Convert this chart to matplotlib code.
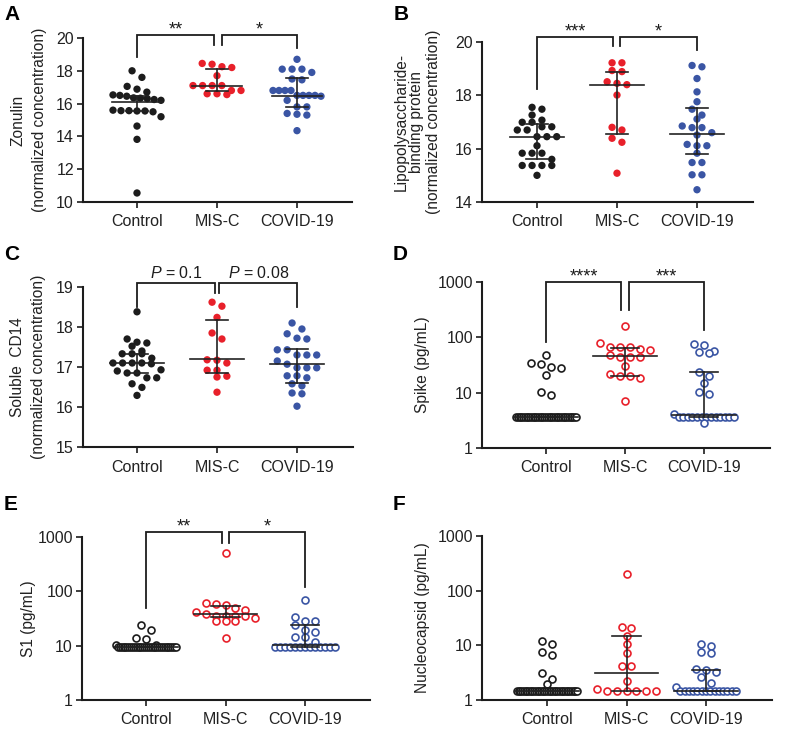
import numpy as np
import matplotlib
matplotlib.use('Agg')
import matplotlib.pyplot as plt

plt.rcParams['font.family'] = ['Liberation Sans', 'DejaVu Sans']
plt.rcParams['mathtext.fontset'] = 'custom'
plt.rcParams['mathtext.it'] = 'Liberation Sans:italic'
plt.rcParams['mathtext.rm'] = 'Liberation Sans'

W, H = 787, 744
RED = '#E8202A'
BLUE = '#3A55A4'
BLACK = '#1C1C1C'
BAR = '#222222'

categories = ['Control', 'MIS-C', 'COVID-19']

# ---------------- data ----------------
zonulin_control = [18.0, 17.6, 17.05, 16.88, 16.7, 16.53, 16.5, 16.45, 16.35, 16.33, 16.3, 16.25,
                   16.2, 15.6, 15.57, 15.57, 15.55, 15.55, 15.5, 15.2, 14.63, 13.82, 10.55]
zonulin_misc = [18.45, 18.4, 18.25, 18.2, 17.7, 17.1, 17.1, 17.1, 17.1, 16.8, 16.8, 16.6, 16.6, 16.55]
zonulin_covid = [18.7, 18.1, 18.1, 18.1, 17.9, 17.5, 17.45, 16.8, 16.8, 16.8, 16.8, 16.5, 16.5, 16.5,
                 16.5, 16.45, 16.2, 15.8, 15.8, 15.4, 15.35, 15.3, 14.35]
zonulin_median = [16.12, 17.09, 16.48]
zonulin_q1 = [15.55, 16.77, 15.77]
zonulin_q3 = [16.48, 18.11, 17.58]

lbp_control = [17.55, 17.48, 17.26, 17.07, 16.99, 16.99, 16.82, 16.82, 16.70, 16.70, 16.45, 16.45,
               16.45, 16.11, 15.83, 15.83, 15.83, 15.6, 15.37, 15.37, 15.37, 15.37, 15.0]
lbp_misc = [19.22, 19.22, 18.93, 18.89, 18.51, 18.45, 18.40, 18.01, 16.80, 16.70, 16.39, 16.24, 15.08]
lbp_covid = [19.12, 19.07, 18.63, 18.13, 17.76, 17.48, 17.26, 17.11, 16.85, 16.79, 16.79, 16.6,
             16.51, 16.16, 16.11, 16.11, 15.83, 15.48, 15.48, 15.02, 15.02, 14.46]
lbp_median = [16.45, 18.40, 16.55]
lbp_q1 = [15.60, 16.55, 15.79]
lbp_q3 = [16.93, 18.86, 17.51]

cd14_control = [18.38, 17.70, 17.62, 17.6, 17.52, 17.4, 17.33, 17.33, 17.33, 17.22, 17.1, 17.1,
                17.1, 17.1, 17.08, 16.93, 16.9, 16.85, 16.85, 16.73, 16.73, 16.58, 16.49, 16.29]
cd14_misc = [18.62, 18.52, 18.24, 17.85, 17.7, 17.18, 17.17, 17.1, 16.92, 16.92, 16.77, 16.75, 16.37]
cd14_covid = [18.1, 17.95, 17.83, 17.72, 17.7, 17.43, 17.43, 17.3, 17.3, 17.3, 17.15, 17.07, 16.98,
              16.98, 16.98, 16.78, 16.78, 16.73, 16.58, 16.53, 16.35, 16.33, 16.02]
cd14_median = [17.09, 17.19, 17.07]
cd14_q1 = [16.84, 16.84, 16.59]
cd14_q3 = [17.33, 18.18, 17.45]

spike_control = [48, 34, 33, 29.5, 27.5, 21, 10.4, 9.1,
                 3.6, 3.6, 3.6, 3.6, 3.6, 3.6, 3.6, 3.6, 3.6, 3.6, 3.6, 3.6, 3.6, 3.6, 3.6, 3.6, 3.6,
                 3.6, 3.6, 3.6, 3.6, 3.6, 3.6, 3.6, 3.6, 3.6, 3.6, 3.6, 3.6, 3.6, 3.6, 3.6, 3.6, 3.6, 3.6]
spike_misc = [159, 79, 66, 66, 66, 62, 60, 47, 45, 45, 45, 30, 21.5, 20, 20, 18.6, 7.2]
spike_covid = [75, 73, 57, 55, 52, 23.3, 20, 14.8, 10.1, 9.3, 4.2,
               3.7, 3.7, 3.7, 3.7, 3.7, 3.7, 3.7, 3.7, 3.7, 3.7, 3.7, 3.7, 3.7, 2.88]
spike_median = [3.6, 46, 3.9]
spike_q1 = [3.6, 20.2, 3.7]
spike_q3 = [3.6, 64.9, 23.3]

s1_control = [24, 19.6, 14, 13, 10.5, 10.3,
              9.3, 9.3, 9.3, 9.3, 9.3, 9.3, 9.3, 9.3, 9.3, 9.3, 9.3, 9.3, 9.3, 9.3, 9.3, 9.3,
              9.3, 9.3, 9.3, 9.3, 9.3, 9.3, 9.3, 9.3, 9.3, 9.3, 9.3, 9.3, 9.3, 9.3, 9.3, 9.3]
s1_misc = [515, 60, 58.5, 56, 48.6, 46, 42, 39, 35, 35, 35, 35, 32, 29, 29, 28, 13.6]
s1_covid = [68, 34, 28, 28, 24, 19.5, 18, 14.7, 14.7, 11.7,
            9.3, 9.3, 9.3, 9.3, 9.3, 9.3, 9.3, 9.3, 9.3, 9.3, 9.3, 9.3, 9.3]
s1_median = [9.3, 38.3, 10.3]
s1_q1 = [9.3, 33.3, 9.3]
s1_q3 = [9.3, 53.7, 24.0]

nc_control = [12.1, 10.5, 7.4, 6.7, 3.15, 2.4, 2.0,
              1.44, 1.44, 1.44, 1.44, 1.44, 1.44, 1.44, 1.44, 1.44, 1.44, 1.44, 1.44, 1.44, 1.44,
              1.44, 1.44, 1.44, 1.44, 1.44, 1.44, 1.44, 1.44, 1.44, 1.44, 1.44, 1.44, 1.44, 1.44,
              1.44, 1.44, 1.44, 1.44, 1.44, 1.44, 1.44, 1.44]
nc_misc = [205, 21.5, 20.5, 15, 10.6, 7.1, 4.2, 4.2, 2.2, 1.6, 1.44, 1.44, 1.44, 1.44, 1.44, 1.44]
nc_covid = [10.6, 9.7, 7.65, 7.1, 3.64, 3.5, 3.3, 2.67, 2.07, 1.7,
            1.44, 1.44, 1.44, 1.44, 1.44, 1.44, 1.44, 1.44, 1.44, 1.44, 1.44, 1.44, 1.44, 1.44]
nc_median = [1.44, 3.15, 1.44]
nc_q1 = [1.44, 1.44, 1.44]
nc_q3 = [1.44, 14.8, 3.54]

# ---------------- helpers ----------------
fig = plt.figure(figsize=(W / 100, H / 100), dpi=100)


def make_axes(left, right, top, bottom, c0, c2):
    ax = fig.add_axes([left / W, 1 - bottom / H, (right - left) / W, (bottom - top) / H])
    ppu = (c2 - c0) / 2.0
    ax.set_xlim(-(c0 - left) / ppu, 2 + (right - c2) / ppu)
    for s in ['top', 'right']:
        ax.spines[s].set_visible(False)
    for s in ['left', 'bottom']:
        ax.spines[s].set_linewidth(1.5)
        ax.spines[s].set_color(BLACK)
    ax.tick_params(axis='both', direction='out', length=4, width=1.2, color=BLACK,
                   labelsize=11.5, labelcolor='#222222')
    ax.tick_params(axis='y', pad=2.5)
    ax.tick_params(axis='x', pad=5)
    ax.set_xticks([0, 1, 2])
    ax.set_xticklabels(categories)
    ax.tick_params(axis='y', which='minor', length=0)
    return ax


def swarm(ax, xc, vals, diam_px, maxw_px):
    vals = np.asarray(vals, float)
    pts = ax.transData.transform(np.column_stack([np.full(len(vals), float(xc)), vals]))
    ypx = pts[:, 1]
    order = np.argsort(-ypx)
    rows = []
    for i in order:
        if rows and abs(ypx[rows[-1][0]] - ypx[i]) < diam_px * 1.0:
            rows[-1].append(i)
        else:
            rows.append([i])
    xpx = np.full(len(vals), pts[0, 0])
    for r in rows:
        n = len(r)
        if n > 1:
            sp = min(diam_px * 1.45, maxw_px / (n - 1))
            for k, i in enumerate(r):
                xpx[i] = pts[0, 0] + (k - (n - 1) / 2.0) * sp
    inv = ax.transData.inverted()
    xy = inv.transform(np.column_stack([xpx, ypx]))
    return xy[:, 0], vals


def draw_group(ax, xc, vals, color, filled, diam_px=6.8):
    if filled:
        xs, ys = swarm(ax, xc, vals, diam_px, 48)
        ax.scatter(xs, ys, s=28, color=color, edgecolors='none', zorder=2, clip_on=False)
    else:
        xs, ys = swarm(ax, xc, vals, diam_px, 60)
        ax.scatter(xs, ys, s=25, facecolors='white', edgecolors=color, linewidths=1.2,
                   zorder=2, clip_on=False)


def draw_stats(ax, med, q1, q3, half_med, half_cap):
    for i in range(3):
        ax.plot([i - half_med, i + half_med], [med[i], med[i]], color=BAR, lw=1.2, zorder=3)
        ax.plot([i, i], [q1[i], q3[i]], color=BAR, lw=1.2, zorder=3)
        ax.plot([i - half_cap, i + half_cap], [q1[i], q1[i]], color=BAR, lw=1.2, zorder=3)
        ax.plot([i - half_cap, i + half_cap], [q3[i], q3[i]], color=BAR, lw=1.2, zorder=3)


def bracket(ax, x1, x2, ytop, y1, y2, label, size=13, off=0.5):
    ax.plot([x1, x1, x2, x2], [y1, ytop, ytop, y2], color=BLACK, lw=1.3, clip_on=False,
            solid_joinstyle='miter')
    ax.annotate(label, xy=((x1 + x2) / 2.0, ytop), xytext=(0, off), textcoords='offset points',
                ha='center', va='baseline', fontsize=size, color=BLACK, annotation_clip=False)


def ylabel(ax, text, center_px, left, right, ls):
    ax.set_ylabel(text, fontsize=11.2, linespacing=ls, color='#222222')
    ax.yaxis.set_label_coords((center_px - left) / (right - left), 0.5)
    ax.yaxis.label.set_va('center')


def letter(x, y, t):
    fig.text(x / W, 1 - y / H, t, fontsize=15, fontweight='bold', ha='left', va='baseline',
             color='black')


def log_axis(ax):
    ax.set_yscale('log')
    ax.set_ylim(1, 1000)
    ax.set_yticks([1, 10, 100, 1000])
    ax.set_yticklabels(['1', '10', '100', '1000'])
    ax.minorticks_off()


# ---------------- Panel A ----------------
axA = make_axes(83, 352, 38, 202, 137, 297)
axA.set_ylim(10, 20)
axA.set_yticks([10, 12, 14, 16, 18, 20])
draw_group(axA, 0, zonulin_control, BLACK, True)
draw_group(axA, 1, zonulin_misc, RED, True)
draw_group(axA, 2, zonulin_covid, BLUE, True)
draw_stats(axA, zonulin_median, zonulin_q1, zonulin_q3, 0.31, 0.14)
bracket(axA, 0, 0.96, 20.2, 18.85, 19.57, '**')
bracket(axA, 1.06, 2, 20.2, 19.57, 19.37, '*')
ylabel(axA, 'Zonulin\n(normalized concentration)', 29, 83, 352, 1.55)
letter(4, 20, 'A')

# ---------------- Panel B ----------------
axB = make_axes(482, 753, 42, 202, 537, 697)
axB.set_ylim(14, 20)
axB.set_yticks([14, 16, 18, 20])
draw_group(axB, 0, lbp_control, BLACK, True)
draw_group(axB, 1, lbp_misc, RED, True)
draw_group(axB, 2, lbp_covid, BLUE, True)
draw_stats(axB, lbp_median, lbp_q1, lbp_q3, 0.34, 0.14)
bracket(axB, 0, 0.95, 20.18, 18.23, 19.85, '***')
bracket(axB, 1.04, 2, 20.18, 19.85, 19.7, '*')
ylabel(axB, 'Lipopolysaccharide-\nbinding protein\n(normalized concentration)', 417, 482, 753, 1.1)
letter(394, 20, 'B')

# ---------------- Panel C ----------------
axC = make_axes(83, 353, 287, 447, 137, 297)
axC.set_ylim(15, 19)
axC.set_yticks([15, 16, 17, 18, 19])
draw_group(axC, 0, cd14_control, BLACK, True)
draw_group(axC, 1, cd14_misc, RED, True)
draw_group(axC, 2, cd14_covid, BLUE, True)
draw_stats(axC, cd14_median, cd14_q1, cd14_q3, 0.34, 0.14)
bracket(axC, 0, 0.97, 19.11, 18.51, 18.86, r'$P$ = 0.1', size=11.5, off=3.5)
bracket(axC, 1.03, 2, 19.11, 18.86, 18.51, r'$P$ = 0.08', size=11.5, off=3.5)
ylabel(axC, 'Soluble  CD14\n(normalized concentration)', 28, 83, 353, 1.55)
letter(4, 260, 'C')

# ---------------- Panel D ----------------
axD = make_axes(482, 770, 282, 448, 546, 704)
log_axis(axD)
draw_group(axD, 0, spike_control, BLACK, False)
draw_group(axD, 1, spike_misc, RED, False)
draw_group(axD, 2, spike_covid, BLUE, False)
draw_stats(axD, spike_median, spike_q1, spike_q3, 0.4, 0.18)
bracket(axD, 0, 0.95, 990, 83, 312, '****')
bracket(axD, 1.05, 2, 990, 312, 136, '***')
ylabel(axD, 'Spike (pg/mL)', 422, 482, 770, 1.2)
letter(393, 260, 'D')

# ---------------- Panel E ----------------
axE = make_axes(82, 370, 537, 700, 146, 305)
log_axis(axE)
draw_group(axE, 0, s1_control, BLACK, False)
draw_group(axE, 1, s1_misc, RED, False)
draw_group(axE, 2, s1_covid, BLUE, False)
draw_stats(axE, s1_median, s1_q1, s1_q3, 0.4, 0.18)
bracket(axE, 0, 0.95, 1220, 48.7, 785, '**')
bracket(axE, 1.05, 2, 1220, 785, 122, '*')
ylabel(axE, 'S1 (pg/mL)', 28, 82, 370, 1.2)
letter(4, 510, 'E')

# ---------------- Panel F ----------------
axF = make_axes(482, 772, 536, 700, 547, 706)
log_axis(axF)
draw_group(axF, 0, nc_control, BLACK, False)
draw_group(axF, 1, nc_misc, RED, False)
draw_group(axF, 2, nc_covid, BLUE, False)
draw_stats(axF, nc_median, nc_q1, nc_q3, 0.4, 0.18)
ylabel(axF, 'Nucleocapsid (pg/mL)', 422, 482, 772, 1.2)
letter(393, 510, 'F')

fig.savefig('out.png', dpi=100)
